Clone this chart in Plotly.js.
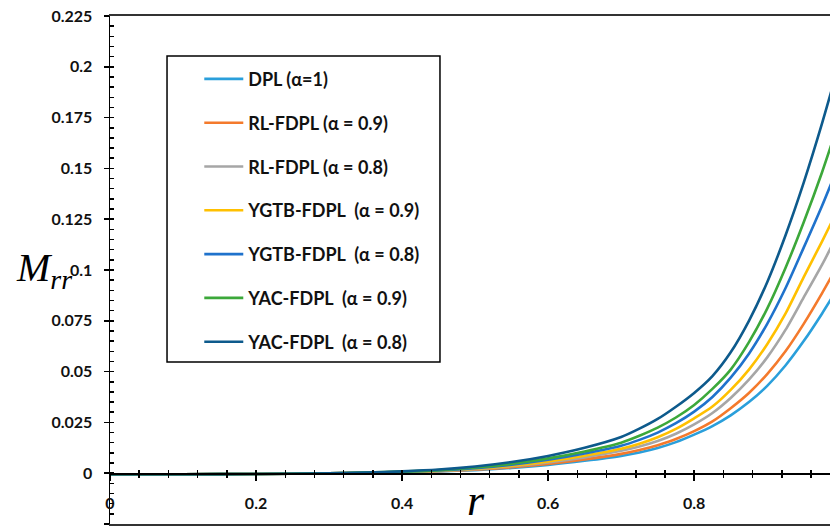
<!DOCTYPE html>
<html>
<head>
<meta charset="utf-8">
<script src="https://cdn.plot.ly/plotly-3.0.1.min.js"></script>
<style>html,body{margin:0;padding:0;background:#fff;}#chart{width:830px;height:531px;}</style>
</head>
<body>
<div id="chart"></div>
<script>
// ---- data ----
const r = [0, 0.1, 0.2, 0.3, 0.35, 0.4, 0.45, 0.5, 0.55, 0.6, 0.65, 0.7, 0.725, 0.75, 0.775, 0.8, 0.825, 0.85, 0.875, 0.9, 0.925, 0.95, 0.975, 1.0];

const dpl    = [-0.0005,-0.0005,-0.0004,-0.0001,0.0002,0.0005,0.0009,0.0015,0.0026,0.0041,0.0061,0.0085,0.0102,0.0124,0.0153,0.019,0.0232,0.0285,0.035,0.043,0.053,0.065,0.0785,0.093];
const rl09   = [-0.0005,-0.0005,-0.0004,-0.0001,0.0002,0.0005,0.0010,0.0017,0.0029,0.0046,0.0068,0.0095,0.0114,0.0138,0.0168,0.0207,0.0255,0.032,0.0395,0.0488,0.060,0.0735,0.0885,0.1045];
const rl08   = [-0.0005,-0.0005,-0.0004,-0.0001,0.0002,0.0006,0.0011,0.0020,0.0034,0.0053,0.0078,0.011,0.0131,0.0158,0.0194,0.024,0.0296,0.037,0.046,0.057,0.0705,0.0865,0.1025,0.120];
const ygtb09 = [-0.0005,-0.0005,-0.0004,-0.0001,0.0002,0.0006,0.0012,0.0022,0.0037,0.0058,0.0086,0.012,0.0145,0.0177,0.0218,0.027,0.0328,0.041,0.051,0.0635,0.0785,0.0965,0.114,0.132];
const ygtb08 = [-0.0005,-0.0005,-0.0004,-0.0001,0.0003,0.0007,0.0014,0.0025,0.0042,0.0066,0.0097,0.0135,0.0164,0.0200,0.0246,0.0303,0.0375,0.047,0.0588,0.0735,0.091,0.111,0.1315,0.1535];
const yac09  = [-0.0005,-0.0005,-0.0004,-0.0001,0.0003,0.0008,0.0015,0.0028,0.0047,0.0073,0.0107,0.015,0.0184,0.0224,0.0274,0.0336,0.0415,0.051,0.0645,0.081,0.101,0.1235,0.148,0.175];
const yac08  = [-0.0005,-0.0005,-0.0004,-0.0001,0.0003,0.0009,0.0018,0.0033,0.0055,0.0085,0.0125,0.0178,0.0219,0.0267,0.0327,0.0395,0.0478,0.0595,0.075,0.094,0.117,0.143,0.172,0.2035];

const seriesNames = ['DPL (α=1)', 'RL-FDPL (α = 0.9)', 'RL-FDPL (α = 0.8)', 'YGTB-FDPL&nbsp; (α = 0.9)', 'YGTB-FDPL&nbsp; (α = 0.8)', 'YAC-FDPL&nbsp; (α = 0.9)', 'YAC-FDPL&nbsp; (α = 0.8)'];
const seriesData = [dpl, rl09, rl08, ygtb09, ygtb08, yac09, yac08];
const seriesColors = ['#2a9fdb', '#f47a2c', '#a6a6a6', '#ffc000', '#1f72cc', '#3ca83a', '#0d5a8c'];

const yTickVals = [-0.025, 0, 0.025, 0.05, 0.075, 0.1, 0.125, 0.15, 0.175, 0.2, 0.225];
const yTickText = ['-0.025', '0', '0.025', '0.05', '0.075', '0.1', '0.125', '0.15', '0.175', '0.2', '0.225'];
const xTickVals = [0, 0.2, 0.4, 0.6, 0.8];
const xTickText = ['0', '0.2', '0.4', '0.6', '0.8'];

// ---- figure ----
const traces = seriesData.map((ys, i) => ({
  x: r, y: ys, type: 'scatter', mode: 'lines',
  name: seriesNames[i], legendgroup: 'g' + i,
  line: {color: seriesColors[i], width: 2.6, shape: 'spline', smoothing: 0.7},
  xaxis: 'x', yaxis: 'y'
}));
// empty helper traces so the overlay axes get built
traces.push({x: [], y: [], xaxis: 'x2', yaxis: 'y', showlegend: false, hoverinfo: 'skip'});
traces.push({x: [], y: [], xaxis: 'x3', yaxis: 'y', showlegend: false, hoverinfo: 'skip'});
traces.push({x: [], y: [], xaxis: 'x', yaxis: 'y2', showlegend: false, hoverinfo: 'skip'});

const XR = [0, 0.986];
const YR = [-0.025, 0.225];
const tickFont = {family: 'Lato, "Open Sans", sans-serif', size: 16, color: '#111', weight: 'bold'};

const layout = {
  width: 830, height: 531,
  margin: {l: 110, r: 0, t: 16, b: 7},
  paper_bgcolor: '#fff', plot_bgcolor: '#fff',
  showlegend: true,
  legend: {
    x: 0.124, y: 0.912, xanchor: 'left', yanchor: 'top',
    bgcolor: 'rgba(0,0,0,0)', borderwidth: 0,
    font: {family: 'Lato, "Open Sans", sans-serif', size: 18, color: '#111', weight: 'bold'},
    tracegroupgap: 17.4, itemwidth: 39
  },
  xaxis: {
    range: XR, showline: true, mirror: true, linecolor: '#333', linewidth: 2,
    ticks: '', showticklabels: false, showgrid: false, zeroline: false
  },
  xaxis2: {
    overlaying: 'x', anchor: 'free', position: 0.1, range: XR,
    showline: true, linecolor: '#000', linewidth: 1.5,
    tickvals: xTickVals, ticktext: xTickText, ticks: 'outside', ticklen: 6, tickwidth: 1.5, tickcolor: '#000',
    minor: {dtick: 0.04, ticks: 'outside', ticklen: 3, tickwidth: 1.5, tickcolor: '#000'},
    tickfont: tickFont, ticklabelstandoff: 9,
    showgrid: false, zeroline: false
  },
  xaxis3: {
    overlaying: 'x', anchor: 'free', position: 0.1, range: XR,
    showline: false, dtick: 0.04, tick0: 0, ticks: 'inside', ticklen: 3, tickwidth: 1.5, tickcolor: '#000',
    showticklabels: false, showgrid: false, zeroline: false
  },
  yaxis: {
    range: YR, showline: true, linecolor: '#000', linewidth: 1.5, mirror: false,
    tickvals: yTickVals, ticktext: yTickText, ticks: 'outside', ticklen: 5, tickwidth: 1.5, tickcolor: '#000',
    tickfont: tickFont, ticklabelstandoff: 8,
    showgrid: false, zeroline: false
  },
  yaxis2: {
    overlaying: 'y', anchor: 'x', side: 'left', range: YR,
    showline: false, dtick: 0.005, tick0: 0, ticks: 'inside', ticklen: 4, tickwidth: 1.5, tickcolor: '#000',
    showticklabels: false, showgrid: false, zeroline: false
  },
  shapes: [{
    type: 'rect', xref: 'paper', yref: 'paper',
    x0: 0.0792, x1: 0.4583, y0: 0.3189, y1: 0.9213,
    line: {color: '#000', width: 1.5}, fillcolor: 'rgba(0,0,0,0)', layer: 'above'
  }],
  annotations: [
    {text: '<i>M</i><sub><i>rr</i></sub>', xref: 'paper', yref: 'paper', x: -0.092, y: 0.5,
     xanchor: 'center', yanchor: 'middle', showarrow: false,
     font: {family: '"Liberation Serif", "DejaVu Serif", serif', size: 40, color: '#000'}},
    {text: '<i>r</i>', xref: 'paper', yref: 'paper', x: 0.508, y: 0.046,
     xanchor: 'center', yanchor: 'middle', showarrow: false,
     font: {family: '"Liberation Serif", "DejaVu Serif", serif', size: 44, color: '#000'}}
  ]
};

Plotly.newPlot('chart', traces, layout, {displayModeBar: false, staticPlot: true});
</script>
</body>
</html>
